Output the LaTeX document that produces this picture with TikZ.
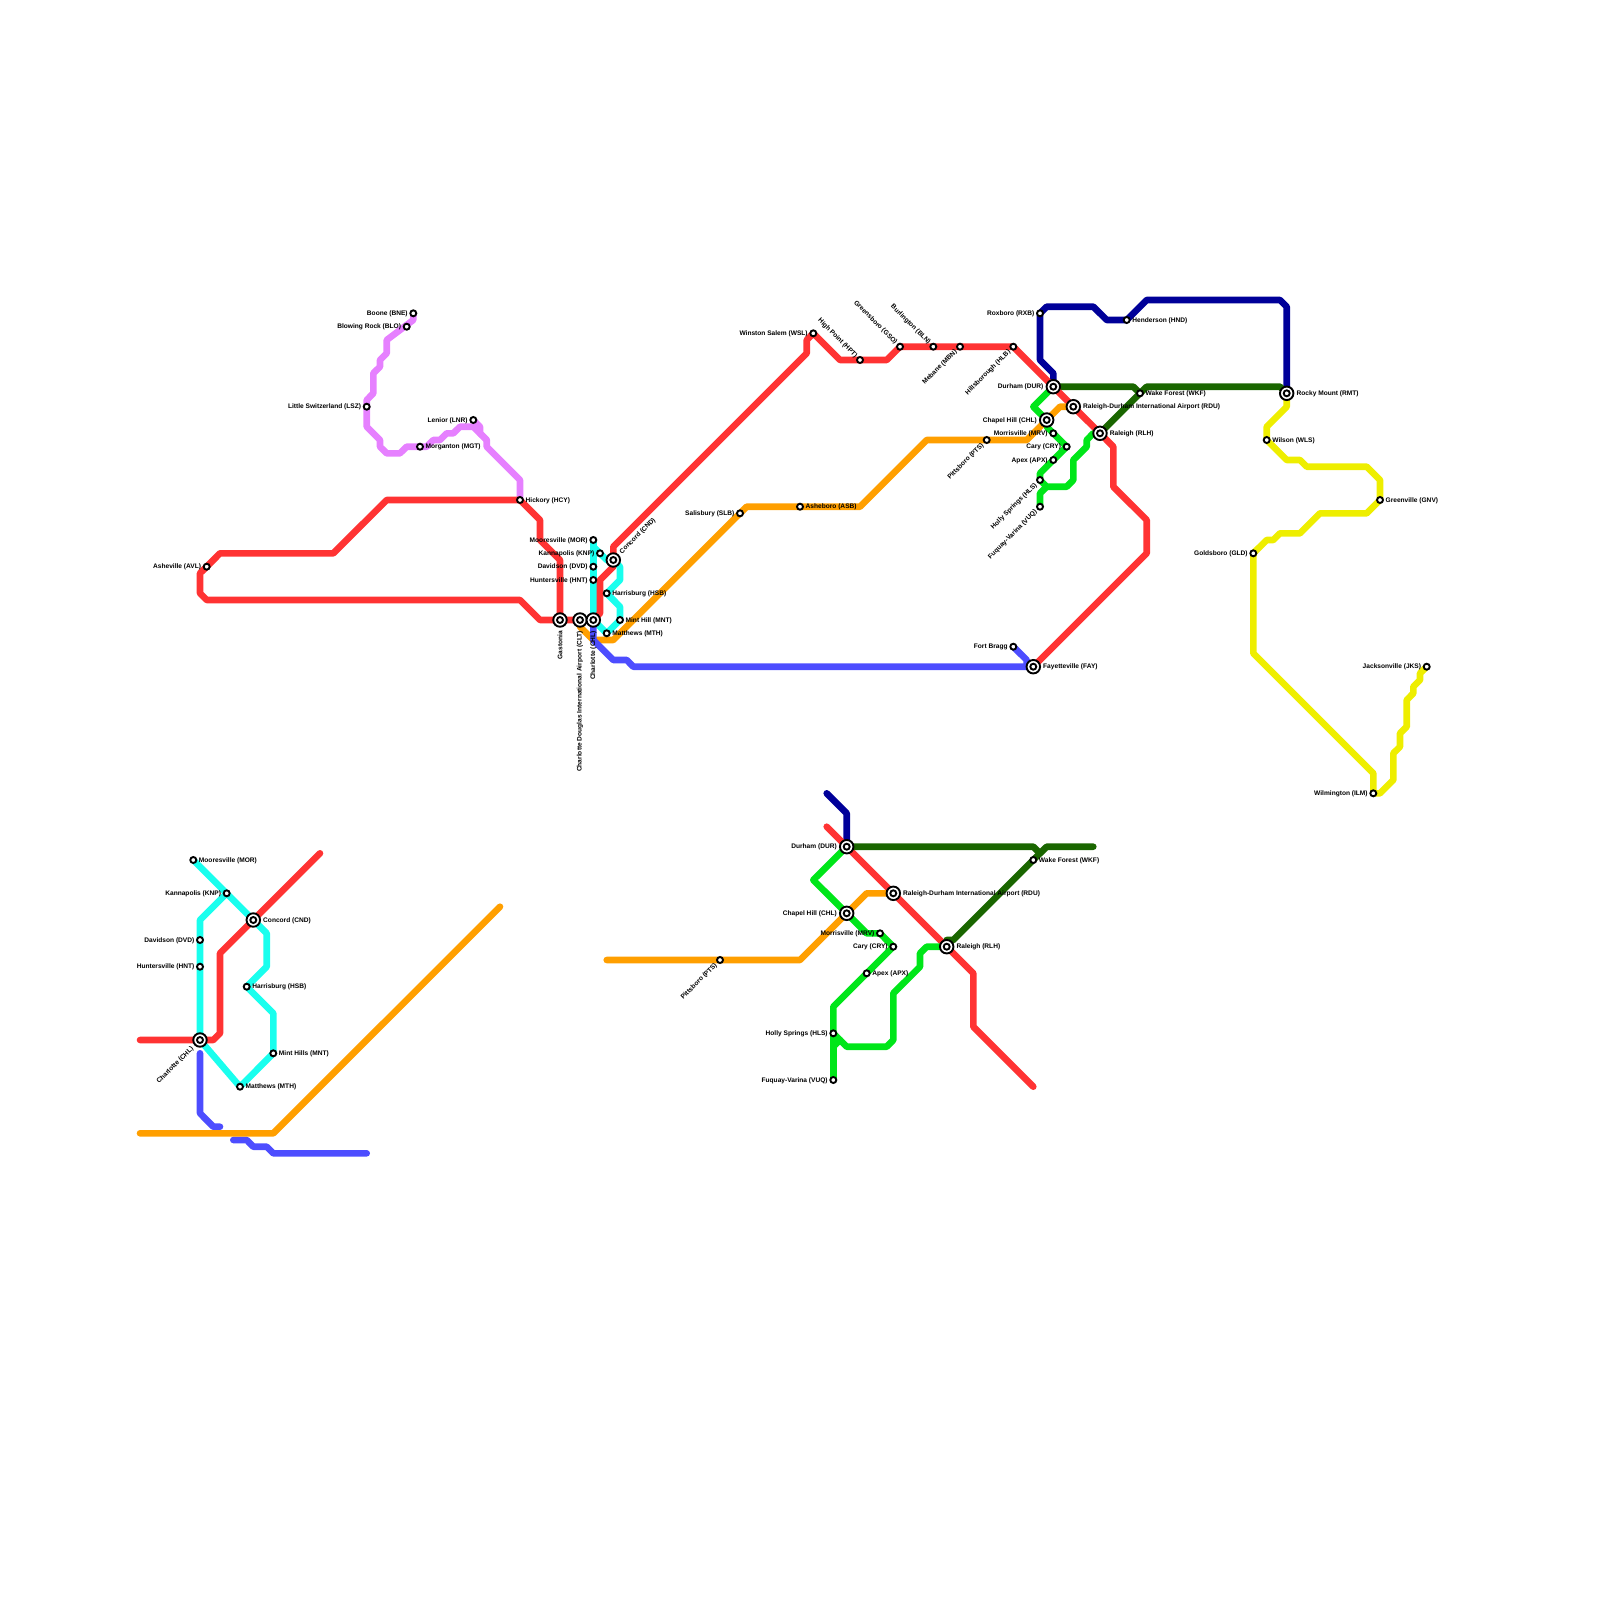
\documentclass[tikz,border=0pt]{standalone}
\usepackage{fontspec}
\setmainfont{Liberation Sans}
\usepackage{xcolor}
\usepackage{tikz}
\usetikzlibrary{positioning, backgrounds}
\definecolor{redline}{HTML}{FF3333}
\definecolor{cyanline}{HTML}{19FFEE}
\definecolor{blueline}{HTML}{4D4DFF}
\definecolor{orangeline}{HTML}{FF9F00}
\definecolor{greenline}{HTML}{00E619}
\definecolor{forestline}{HTML}{1A6600}
\definecolor{navyline}{HTML}{000099}
\definecolor{yellowline}{HTML}{EEEE00}
\definecolor{pinkline}{HTML}{E680FF}
\tikzset{
  font=\fontsize{6.6}{7}\selectfont\bfseries,
  stop/.style    = {circle, draw=black, fill=white, line width=1.9pt,
                    inner sep=0pt, minimum size=6pt},
  hub/.style     = {stop, minimum size=13.5pt, path picture={
                    \draw[line width=1.9pt] (path picture bounding box.center) circle (3pt);}},
  lab/.style     = {inner sep=0pt, text=black, yshift=-0.5pt},
  route/.style   = {line width=6.6pt, line cap=round, line join=round},
}
\begin{document}
\begin{tikzpicture}[x=1pt, y=-1pt]
  \useasboundingbox (0,0) rectangle (1600,1600);
  % main map, west
  \node[stop] (bne) at (413.3,313.3) {};   \node[lab, left=1.5pt of bne] (bnel) {Boone (BNE)};
  \node[stop] (blo) at (406.7,326.7) {};   \node[lab, left=1.5pt of blo] (blol) {Blowing Rock (BLO)};
  \node[stop] (lsz) at (366.7,406.7) {};   \node[lab, left=1.5pt of lsz] (lszl) {Little Switzerland (LSZ)};
  \node[stop] (lnr) at (473.3,420) {};     \node[lab, left=1.5pt of lnr] (lnrl) {Lenior (LNR)};
  \node[stop] (mgt) at (420,446.7) {};     \node[lab, right=1.5pt of mgt] (mgtl) {Morganton (MGT)};
  \node[stop] (hcy) at (520,500) {};       \node[lab, right=1.5pt of hcy] (hcyl) {Hickory (HCY)};
  \node[stop] (avl) at (206.7,566.7) {};   \node[lab, left=1.5pt of avl] (avll) {Asheville (AVL)};
  % main map, Charlotte
  \node[hub]  (gas) at (560,620) {};       \node[lab, rotate=90, anchor=east] (gasl) at ([yshift=-10.5pt]gas.center) {Gastonia};
  \node[hub]  (clt) at (580,620) {};       \node[lab, rotate=90, anchor=east] (cltl) at ([yshift=-10.5pt]clt.center) {Charlotte Douglas International Airport (CLT)};
  \node[hub]  (chl) at (593.3,620) {};     \node[lab, rotate=90, anchor=east] (chll) at ([yshift=-10.5pt]chl.center) {Charlotte (CHL)};
  \node[stop] (mor) at (593.3,540) {};     \node[lab, left=1.5pt of mor] (morl) {Mooresville (MOR)};
  \node[stop] (knp) at (600,553.3) {};     \node[lab, left=1.5pt of knp] (knpl) {Kannapolis (KNP)};
  \node[stop] (dvd) at (593.3,566.7) {};   \node[lab, left=1.5pt of dvd] (dvdl) {Davidson (DVD)};
  \node[stop] (hnt) at (593.3,580) {};     \node[lab, left=1.5pt of hnt] (hntl) {Huntersville (HNT)};
  \node[hub]  (cnd) at (613.3,560) {};     \node[lab, rotate=45, anchor=west] (cndl) at ([shift={(7.4,-7.4)}]cnd.center) {Concord (CND)};
  \node[stop] (hsb) at (606.7,593.3) {};   \node[lab, right=1.5pt of hsb] (hsbl) {Harrisburg (HSB)};
  \node[stop] (mnt) at (620,620) {};       \node[lab, right=1.5pt of mnt] (mntl) {Mint Hill (MNT)};
  \node[stop] (mth) at (606.7,633.3) {};   \node[lab, right=1.5pt of mth] (mthl) {Matthews (MTH)};
  % main map, Triad and Triangle
  \node[stop] (slb) at (740,513.3) {};     \node[lab, left=1.5pt of slb] (slbl) {Salisbury (SLB)};
  \node[stop] (asb) at (800,506.7) {};     \node[lab, right=1.5pt of asb] (asbl) {Asheboro (ASB)};
  \node[stop] (pts) at (986.7,440) {};     \node[lab, rotate=45, anchor=east] (ptsl) at ([shift={(-3.8,3.8)}]pts.center) {Pittsboro (PTS)};
  \node[stop] (wsl) at (813.3,333.3) {};   \node[lab, left=1.5pt of wsl] (wsll) {Winston Salem (WSL)};
  \node[stop] (hpt) at (860,360) {};       \node[lab, rotate=-45, anchor=east] (hptl) at ([shift={(-3.8,-3.8)}]hpt.center) {High Point (HPT)};
  \node[stop] (gso) at (900,346.7) {};     \node[lab, rotate=-45, anchor=east] (gsol) at ([shift={(-3.8,-3.8)}]gso.center) {Greensboro (GSO)};
  \node[stop] (bln) at (933.3,346.7) {};   \node[lab, rotate=-45, anchor=east] (blnl) at ([shift={(-3.8,-3.8)}]bln.center) {Burlington (BLN)};
  \node[stop] (mbn) at (960,346.7) {};     \node[lab, rotate=45, anchor=east] (mbnl) at ([shift={(-3.8,3.8)}]mbn.center) {Mebane (MBN)};
  \node[stop] (hlb) at (1013.3,346.7) {};  \node[lab, rotate=45, anchor=east] (hlbl) at ([shift={(-3.8,3.8)}]hlb.center) {Hillsborough (HLB)};
  \node[stop] (rxb) at (1040,313.3) {};    \node[lab, left=1.5pt of rxb] (rxbl) {Roxboro (RXB)};
  \node[stop] (hnd) at (1126.7,320) {};    \node[lab, right=1.5pt of hnd] (hndl) {Henderson (HND)};
  \node[hub]  (dur) at (1053.3,386.7) {};  \node[lab, left=2pt of dur] (durl) {Durham (DUR)};
  \node[stop] (wkf) at (1140,393.3) {};    \node[lab, right=1.5pt of wkf] (wkfl) {Wake Forest (WKF)};
  \node[hub]  (rdu) at (1073.3,406.7) {};  \node[lab, right=2pt of rdu] (rdul) {Raleigh-Durham International Airport (RDU)};
  \node[hub]  (cph) at (1046.7,420) {};    \node[lab, left=2pt of cph] (cphl) {Chapel Hill (CHL)};
  \node[hub]  (rlh) at (1100,433.3) {};    \node[lab, right=2pt of rlh] (rlhl) {Raleigh (RLH)};
  \node[stop] (mrv) at (1053.3,433.3) {};  \node[lab, left=1.5pt of mrv] (mrvl) {Morrisville (MRV)};
  \node[stop] (cry) at (1066.7,446.7) {};  \node[lab, left=1.5pt of cry] (cryl) {Cary (CRY)};
  \node[stop] (apx) at (1053.3,460) {};    \node[lab, left=1.5pt of apx] (apxl) {Apex (APX)};
  \node[stop] (hls) at (1040,480) {};      \node[lab, rotate=45, anchor=east] (hlsl) at ([shift={(-3.8,3.8)}]hls.center) {Holly Springs (HLS)};
  \node[stop] (vuq) at (1040,506.7) {};    \node[lab, rotate=45, anchor=east] (vuql) at ([shift={(-3.8,3.8)}]vuq.center) {Fuquay-Varina (VUQ)};
  \node[stop] (fbg) at (1013.3,646.7) {};  \node[lab, left=1.5pt of fbg] (fbgl) {Fort Bragg};
  \node[hub]  (fay) at (1033.3,666.7) {};  \node[lab, right=2pt of fay] (fayl) {Fayetteville (FAY)};
  % main map, east
  \node[hub]  (rmt) at (1286.7,393.3) {};  \node[lab, right=2pt of rmt] (rmtl) {Rocky Mount (RMT)};
  \node[stop] (wls) at (1266.7,440) {};    \node[lab, right=1.5pt of wls] (wlsl) {Wilson (WLS)};
  \node[stop] (gnv) at (1380,500) {};      \node[lab, right=1.5pt of gnv] (gnvl) {Greenville (GNV)};
  \node[stop] (gld) at (1253.3,553.3) {};  \node[lab, left=1.5pt of gld] (gldl) {Goldsboro (GLD)};
  \node[stop] (ilm) at (1373.3,793.3) {};  \node[lab, left=1.5pt of ilm] (ilml) {Wilmington (ILM)};
  \node[stop] (jks) at (1426.7,666.7) {};  \node[lab, left=1.5pt of jks] (jksl) {Jacksonville (JKS)};
  % Charlotte inset
  \node[hub]  (ichl) at (200,1040) {};     \node[lab, rotate=45, anchor=east] (ichll) at ([shift={(-7.4,7.4)}]ichl.center) {Charlotte (CHL)};
  \node[stop] (imor) at (193.3,860) {};    \node[lab, right=1.5pt of imor] (imorl) {Mooresville (MOR)};
  \node[stop] (iknp) at (226.7,893.3) {};  \node[lab, left=1.5pt of iknp] (iknpl) {Kannapolis (KNP)};
  \node[hub]  (icnd) at (253.3,920) {};    \node[lab, right=2pt of icnd] (icndl) {Concord (CND)};
  \node[stop] (idvd) at (200,940) {};      \node[lab, left=1.5pt of idvd] (idvdl) {Davidson (DVD)};
  \node[stop] (ihnt) at (200,966.7) {};    \node[lab, left=1.5pt of ihnt] (ihntl) {Huntersville (HNT)};
  \node[stop] (ihsb) at (246.7,986.7) {};  \node[lab, right=1.5pt of ihsb] (ihsbl) {Harrisburg (HSB)};
  \node[stop] (imnt) at (273.3,1053.3) {}; \node[lab, right=1.5pt of imnt] (imntl) {Mint Hills (MNT)};
  \node[stop] (imth) at (240,1086.7) {};   \node[lab, right=1.5pt of imth] (imthl) {Matthews (MTH)};
  % Triangle inset
  \node[hub]  (idur) at (846.7,846.7) {};  \node[lab, left=2pt of idur] (idurl) {Durham (DUR)};
  \node[hub]  (irdu) at (893.3,893.3) {};  \node[lab, right=2pt of irdu] (irdul) {Raleigh-Durham International Airport (RDU)};
  \node[hub]  (icph) at (846.7,913.3) {};  \node[lab, left=2pt of icph] (icphl) {Chapel Hill (CHL)};
  \node[hub]  (irlh) at (946.7,946.7) {};  \node[lab, right=2pt of irlh] (irlhl) {Raleigh (RLH)};
  \node[stop] (iwkf) at (1033.3,860) {};   \node[lab, right=1.5pt of iwkf] (iwkfl) {Wake Forest (WKF)};
  \node[stop] (imrv) at (880,933.3) {};    \node[lab, left=1.5pt of imrv] (imrvl) {Morrisville (MRV)};
  \node[stop] (icry) at (893.3,946.7) {};  \node[lab, left=1.5pt of icry] (icryl) {Cary (CRY)};
  \node[stop] (iapx) at (866.7,973.3) {};  \node[lab, right=1.5pt of iapx] (iapxl) {Apex (APX)};
  \node[stop] (ihls) at (833.3,1033.3) {}; \node[lab, left=1.5pt of ihls] (ihlsl) {Holly Springs (HLS)};
  \node[stop] (ivuq) at (833.3,1080) {};   \node[lab, left=1.5pt of ivuq] (ivuql) {Fuquay-Varina (VUQ)};
  \node[stop] (ipts) at (720,960) {};      \node[lab, rotate=45, anchor=east] (iptsl) at ([shift={(-3.8,3.8)}]ipts.center) {Pittsboro (PTS)};
  \begin{scope}[on background layer]
    % main map routes
    \draw[route, pinkline] (bne.center) -- (413.3,320) -- (386.7,340) -- (386.7,353.3) -- (380,360) -- (380,366.7) -- (373.3,373.3) -- (373.3,393.3) -- (366.7,400) -- (lsz.center) -- (366.7,426.7) -- (380,440) -- (380,446.7) -- (386.7,453.3) -- (400,453.3) -- (406.7,446.7) -- (mgt.center) -- (426.7,446.7) -- (433.3,440) -- (440,440) -- (446.7,433.3) -- (453.3,433.3) -- (460,426.7) -- (473.3,426.7) -- (486.7,440) -- (486.7,446.7) -- (520,480) -- (hcy.center);
    \draw[route, pinkline] (lnr.center) -- (480,426.7) -- (480,433.3) -- (486.7,440);
    \draw[route, navyline] (dur.center) -- (1053.3,373.3) -- (1040,360) -- (rxb.center) -- (1046.7,306.7) -- (1093.3,306.7) -- (1106.7,320) -- (hnd.center) -- (1146.7,300) -- (1280,300) -- (1286.7,306.7) -- (rmt.center);
    \draw[route, forestline] (dur.center) -- (1133.3,386.7) -- (wkf.center) -- (1146.7,386.7) -- (1280,386.7) -- (rmt.center);
    \draw[route, forestline] (wkf.center) -- (rlh.center);
    \draw[route, greenline] (dur.center) -- (1033.3,406.7) -- (cph.center) -- (1046.7,426.7) -- (mrv.center) -- (cry.center) -- (apx.center) -- (1040,473.3) -- (hls.center) -- (1046.7,486.7) -- (1066.7,486.7) -- (1073.3,480) -- (1073.3,460) -- (1086.7,446.7) -- (1086.7,440) -- (1093.3,433.3) -- (rlh.center);
    \draw[route, greenline] (vuq.center) -- (1040,493.3) -- (1046.7,486.7);
    \draw[route, yellowline] (rmt.center) -- (1286.7,406.7) -- (1266.7,426.7) -- (wls.center) -- (1286.7,460) -- (1300,460) -- (1306.7,466.7) -- (1366.7,466.7) -- (1380,480) -- (gnv.center) -- (1366.7,513.3) -- (1320,513.3) -- (1300,533.3) -- (1280,533.3) -- (1273.3,540) -- (1266.7,540) -- (gld.center) -- (1253.3,653.3) -- (1373.3,773.3) -- (ilm.center) -- (1380,793.3) -- (1393.3,780) -- (1393.3,753.3) -- (1400,746.7) -- (1400,733.3) -- (1406.7,726.7) -- (1406.7,700) -- (1413.3,693.3) -- (1413.3,686.7) -- (1420,680) -- (1420,673.3) -- (jks.center);
    \draw[route, cyanline] (mor.center) -- (chl.center);
    \draw[route, cyanline] (mor.center) -- (593.3,546.7) -- (knp.center) -- (606.7,560) -- (cnd.center) -- (620,566.7) -- (620,580) -- (hsb.center) -- (620,606.7) -- (mnt.center) -- (mth.center) -- (chl.center);
    \draw[route, redline] (avl.center) -- (220,553.3) -- (333.3,553.3) -- (386.7,500) -- (hcy.center) -- (540,520) -- (540,540) -- (560,560) -- (gas.center);
    \draw[route, redline] (avl.center) -- (200,573.3) -- (200,593.3) -- (206.7,600) -- (520,600) -- (540,620) -- (gas.center) -- (chl.center) -- (600,613.3) -- (600,580) -- (613.3,566.7) -- (cnd.center) -- (613.3,546.7) -- (806.7,353.3) -- (806.7,340) -- (wsl.center) -- (840,360) -- (886.7,360) -- (gso.center) -- (hlb.center) -- (dur.center) -- (rdu.center) -- (rlh.center) -- (1113.3,446.7) -- (1113.3,486.7) -- (1146.7,520) -- (1146.7,553.3) -- (fay.center);
    \draw[route, orangeline] (clt.center) -- (580,626.7) -- (593.3,640) -- (613.3,640) -- (slb.center) -- (746.7,506.7) -- (860,506.7) -- (926.7,440) -- (1026.7,440) -- (1060,406.7) -- (rdu.center);
    \draw[route, blueline] (chl.center) -- (593.3,640) -- (613.3,660) -- (626.7,660) -- (633.3,666.7) -- (fay.center);
    \draw[route, blueline] (fbg.center) -- (1026.7,660) -- (1026.7,666.7);
    % Charlotte inset routes
    \draw[route, cyanline] (imor.center) -- (icnd.center) -- (266.7,933.3) -- (266.7,966.7) -- (ihsb.center) -- (273.3,1013.3) -- (imnt.center) -- (imth.center) -- (ichl.center);
    \draw[route, cyanline] (iknp.center) -- (200,920) -- (ichl.center);
    \draw[route, redline] (140,1040) -- (213.3,1040) -- (220,1033.3) -- (220,953.3) -- (icnd.center) -- (320,853.3);
    \draw[route, blueline] (200,1053.3) -- (200,1113.3) -- (213.3,1126.7) -- (220,1126.7);
    \draw[route, blueline] (233.3,1140) -- (246.7,1140) -- (253.3,1146.7) -- (266.7,1146.7) -- (273.3,1153.3) -- (366.7,1153.3);
    \draw[route, orangeline] (140,1133.3) -- (273.3,1133.3) -- (500,906.7);
    % Triangle inset routes
    \draw[route, navyline] (826.7,793.3) -- (846.7,813.3) -- (idur.center);
    \draw[route, redline] (826.7,826.7) -- (idur.center) -- (irlh.center) -- (973.3,973.3) -- (973.3,1026.7) -- (1033.3,1086.7);
    \draw[route, forestline] (idur.center) -- (1033.3,846.7) -- (1040,853.3) -- (1046.7,846.7) -- (1093.3,846.7);
    \draw[route, forestline] (1040,853.3) -- (iwkf.center) -- (953.3,940) -- (946.7,940) -- (irlh.center);
    \draw[route, greenline] (idur.center) -- (813.3,880) -- (icph.center) -- (866.7,933.3) -- (imrv.center) -- (icry.center) -- (833.3,1006.7) -- (ihls.center) -- (846.7,1046.7) -- (886.7,1046.7) -- (893.3,1040) -- (893.3,993.3) -- (920,966.7) -- (920,953.3) -- (926.7,946.7) -- (irlh.center);
    \draw[route, greenline] (ivuq.center) -- (ihls.center);
    \draw[route, greenline] (833.3,1046.7) -- (840,1040);
    \draw[route, orangeline] (606.7,960) -- (800,960) -- (866.7,893.3) -- (irdu.center);
  \end{scope}
\end{tikzpicture}
\end{document}
